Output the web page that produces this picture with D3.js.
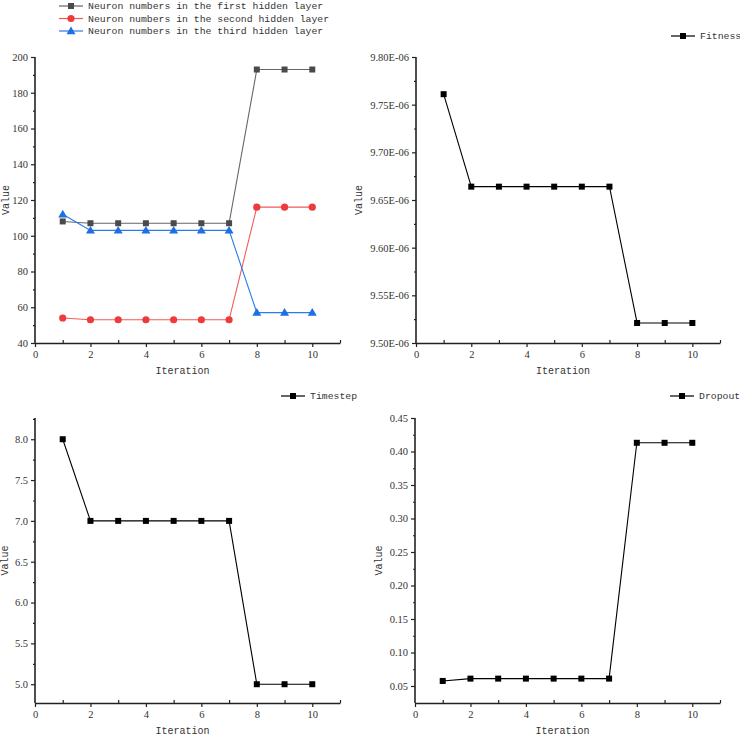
<!DOCTYPE html>
<html>
<head>
<meta charset="utf-8">
<script src="https://cdn.jsdelivr.net/npm/d3@7"></script>
<style>
  body { margin: 0; background: #fff; }
  svg text { font-family: "Liberation Mono", "DejaVu Sans Mono", monospace; fill: #333; }
</style>
</head>
<body>
<svg id="chart" width="740" height="736"></svg>
<script>
// datos
const iterations = [1, 2, 3, 4, 5, 6, 7, 8, 9, 10];
const firstLayer = [108, 107, 107, 107, 107, 107, 107, 193, 193, 193];
const secondLayer = [54, 53, 53, 53, 53, 53, 53, 116, 116, 116];
const thirdLayer = [112, 103, 103, 103, 103, 103, 103, 57, 57, 57];
const fitness = [9.761e-6, 9.664e-6, 9.664e-6, 9.664e-6, 9.664e-6, 9.664e-6, 9.664e-6, 9.521e-6, 9.521e-6, 9.521e-6];
const timestep = [8, 7, 7, 7, 7, 7, 7, 5, 5, 5];
const dropout = [0.0575, 0.061, 0.061, 0.061, 0.061, 0.061, 0.061, 0.413, 0.413, 0.413];

const xMajor = [0, 2, 4, 6, 8, 10];
const xMinor = [1, 3, 5, 7, 9, 11];

const svg = d3.select('#chart');

// Dibuja un marcador según su forma
function marker(g, shape, x, y, color) {
    if (shape === 'square') {
        g.append('rect').attr('x', x - 3).attr('y', y - 3).attr('width', 6).attr('height', 6).attr('fill', color);
    } else if (shape === 'circle') {
        g.append('circle').attr('cx', x).attr('cy', y).attr('r', 3.6).attr('fill', color);
    } else {
        g.append('path').attr('d', `M${x},${y - 4.5}L${x + 4.5},${y + 3.2}L${x - 4.5},${y + 3.2}Z`).attr('fill', color);
    }
}

function drawPanel(p) {
    const x = d3.scaleLinear().domain([0, 11]).range([p.left, p.right]);
    const y = d3.scaleLinear().domain(p.yDomain).range([p.bottom, p.top]);
    const g = svg.append('g');

    // eje Y: menores y mayores
    g.append('g').attr('transform', `translate(${p.left},0)`)
        .call(d3.axisLeft(y).tickValues(p.yMinor).tickSize(2).tickSizeOuter(0).tickFormat(''))
        .call(s => s.select('.domain').remove());
    const ya = g.append('g').attr('transform', `translate(${p.left},0)`)
        .call(d3.axisLeft(y).tickValues(p.yMajor).tickSize(4).tickSizeOuter(0).tickFormat(p.fmt).tickPadding(3));
    ya.select('.domain').attr('d', `M0,${p.bottom}V${p.top}`);

    // eje X
    g.append('g').attr('transform', `translate(0,${p.bottom})`)
        .call(d3.axisTop(x).tickValues(xMinor).tickSize(3).tickSizeOuter(0).tickFormat(''))
        .call(s => s.select('.domain').remove());
    g.append('g').attr('transform', `translate(0,${p.bottom})`)
        .call(d3.axisBottom(x).tickValues(xMajor).tickSize(4).tickSizeOuter(0).tickPadding(4));

    g.selectAll('.tick line, .domain').attr('stroke', '#222').attr('stroke-width', 1.2);
    g.selectAll('.domain').attr('stroke-width', 1.6);
    g.selectAll('.tick text').attr('font-size', '10.5px').attr('fill', '#444')
        .style('font-family', '"Liberation Serif", serif');

    // títulos de ejes
    g.append('text').attr('x', (p.left + p.right) / 2 - 5).attr('y', p.bottom + 31)
        .attr('text-anchor', 'middle').attr('font-size', '10px').text('Iteration');
    g.append('text').attr('transform', `translate(${p.left + p.valueDx},${(p.top + p.bottom) / 2}) rotate(-90)`)
        .attr('text-anchor', 'middle').attr('font-size', '10px').text('Value');

    // series
    p.series.forEach(s => {
        const line = d3.line().x((d, i) => x(iterations[i])).y(d => y(d));
        g.append('path').datum(s.values).attr('fill', 'none')
            .attr('stroke', s.lineColor).attr('stroke-width', 1.1).attr('d', line);
        s.values.forEach((v, i) => marker(g, s.shape, x(iterations[i]), y(v), s.color));
    });

    // leyenda
    p.series.forEach((s, i) => {
        const ly = p.legendY + i * 12.5;
        g.append('line').attr('x1', p.legendX - 29).attr('x2', p.legendX - 5)
            .attr('y1', ly).attr('y2', ly).attr('stroke', s.lineColor).attr('stroke-width', 1.2);
        marker(g, s.shape, p.legendX - 17, ly, s.color);
        g.append('text').attr('x', p.legendX).attr('y', ly).attr('dy', '0.35em')
            .attr('font-size', '9.8px').text(s.name);
    });
}

const ticks = (a, b, step) => d3.range(Math.round((b - a) / step) + 1).map(i => a + i * step);

drawPanel({
    left: 35, right: 340, top: 57, bottom: 343, valueDx: -26,
    yDomain: [40, 200], yMajor: ticks(40, 200, 20), yMinor: ticks(50, 190, 20), fmt: d3.format('d'),
    legendX: 88, legendY: 6,
    series: [
        { name: 'Neuron numbers in the first hidden layer', values: firstLayer, shape: 'square', color: '#4a4a4a', lineColor: '#666' },
        { name: 'Neuron numbers in the second hidden layer', values: secondLayer, shape: 'circle', color: '#ee3a3a', lineColor: '#f25a5a' },
        { name: 'Neuron numbers in the third hidden layer', values: thirdLayer, shape: 'triangle', color: '#1d6fe2', lineColor: '#2a7bea' }
    ]
});

drawPanel({
    left: 416, right: 720, top: 57, bottom: 343, valueDx: -54,
    yDomain: [9.5e-6, 9.8e-6], yMajor: ticks(9.5e-6, 9.8e-6, 0.05e-6), yMinor: ticks(9.525e-6, 9.775e-6, 0.05e-6),
    fmt: d => (d * 1e6).toFixed(2) + 'E-06',
    legendX: 700, legendY: 36,
    series: [{ name: 'Fitness', values: fitness, shape: 'square', color: '#000', lineColor: '#000' }]
});

drawPanel({
    left: 35, right: 340, top: 418, bottom: 703, valueDx: -27,
    yDomain: [4.77, 8.26], yMajor: ticks(5, 8, 0.5), yMinor: ticks(5.25, 8.25, 0.5), fmt: d3.format('.1f'),
    legendX: 310, legendY: 396,
    series: [{ name: 'Timestep', values: timestep, shape: 'square', color: '#000', lineColor: '#000' }]
});

drawPanel({
    left: 415, right: 720, top: 418, bottom: 703, valueDx: -33,
    yDomain: [0.0246, 0.45], yMajor: ticks(0.05, 0.45, 0.05), yMinor: ticks(0.075, 0.425, 0.05), fmt: d3.format('.2f'),
    legendX: 699, legendY: 396,
    series: [{ name: 'Dropout', values: dropout, shape: 'square', color: '#000', lineColor: '#000' }]
});
</script>
</body>
</html>
